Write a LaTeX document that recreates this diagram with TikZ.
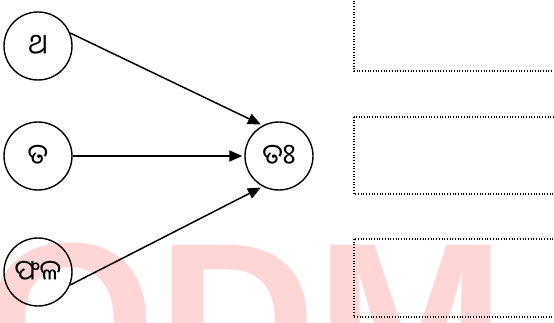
\documentclass[tikz,border=0pt]{standalone}
\usepackage{fontspec}
\usepackage{graphicx}
\usetikzlibrary{arrows.meta}
\newfontfamily\odia[Script=Oriya]{Noto Sans Oriya UI}
\newfontfamily\wmfont{Liberation Sans}
\definecolor{wmpink}{RGB}{255,214,214}
\begin{document}
\begin{tikzpicture}[x=1pt,y=-1pt,
  bubble/.style={draw, circle, minimum size=68pt, inner sep=0pt, line width=1.4pt,
    font=\odia\fontsize{28}{28}\selectfont},
  link/.style={line width=1.5pt, -{Triangle[length=13pt,width=11pt]}, shorten >=2pt},
  blank/.style={draw, line width=1.3pt, dash pattern=on 1pt off 1.7pt}]
\clip (0,0) rectangle (554,323);
% watermark
\node[anchor=base west, inner sep=0pt, text=wmpink,
  font=\wmfont\bfseries\fontsize{220}{220}\selectfont] (wm) at (-16,396)
  {O\hspace{2pt}D\hspace{-1pt}\scalebox{1.04}[1]{M}};
% answer boxes
\draw[blank] (354,-10) rectangle (570,71);
\draw[blank] (354,117) rectangle (570,194);
\draw[blank] (354,239) rectangle (570,317);
% nodes
\node[bubble] (c1) at (38,46) {ଥ};
\node[bubble] (c2) at (38,156) {ତ};
\node[bubble] (c3) at (38,272) {ଫଳ};
\node[bubble] (ct) at (279,156) {ତଃ};
% connectors
\draw[link] (c1.22) -- (ct.118);
\draw[link] (c2.east) -- (ct.west);
\draw[link] (c3.-22) -- (ct.-118);
\end{tikzpicture}
\end{document}
